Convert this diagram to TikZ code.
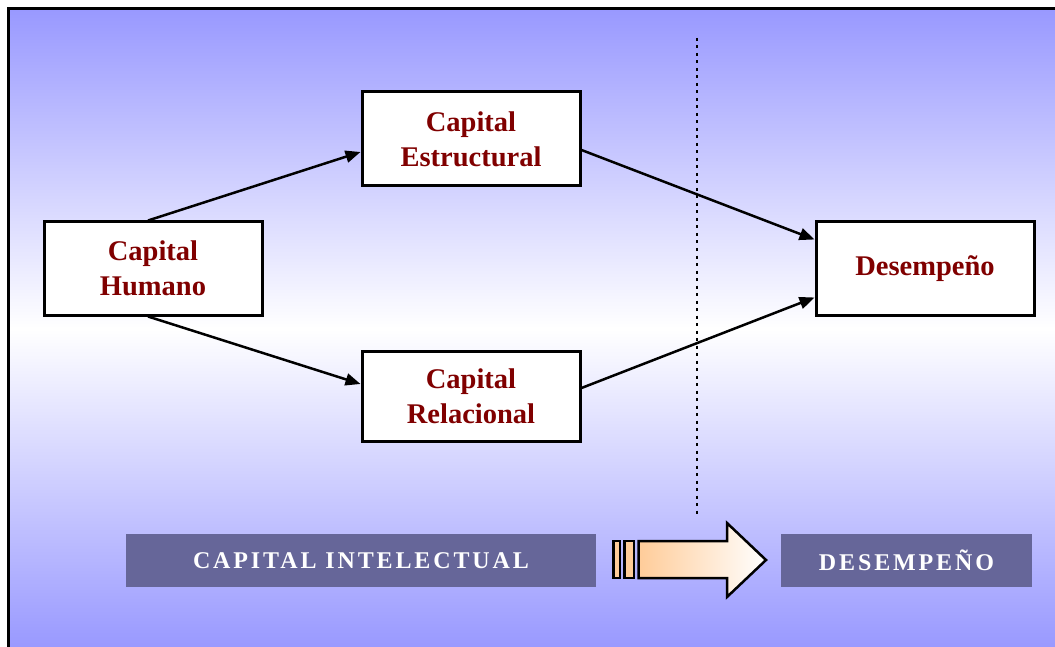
\documentclass[tikz,border=0pt]{standalone}
\usepackage{fontspec}
\setmainfont{Liberation Serif}
\usetikzlibrary{arrows.meta,calc}
\definecolor{bgblue}{HTML}{9999FF}
\definecolor{barblue}{HTML}{666699}
\definecolor{textred}{HTML}{800000}
\definecolor{peach}{HTML}{FFCC99}
\tikzset{
  box/.style={draw=black, line width=3pt, fill=white, minimum width=218pt,
    align=center, text=textred, inner sep=0pt,
    font=\bfseries\fontsize{28.5}{35}\selectfont},
  link/.style={draw=black, line width=2.5pt, -{Triangle[length=15pt,width=12pt]}},
  bar/.style={fill=barblue, draw=none, text=white, inner sep=0pt,
    font=\bfseries\fontsize{24}{28}\selectfont\addfontfeature{LetterSpace=12}}
}
\begin{document}
\begin{tikzpicture}[x=1pt,y=-1pt]
\useasboundingbox (0,0) rectangle (1055,647);
% backdrop with vertical blue-white-blue gradient
\shade[top color=bgblue, bottom color=bgblue, middle color=white]
  (10,10) rectangle (1055,647);
\draw[line width=3pt] (8.5,647) -- (8.5,8.5) -- (1055,8.5);

% dotted divider
\coordinate (d1) at (697,38);
\coordinate (d2) at (697,515);
\draw[line width=2pt, dash pattern=on 3pt off 4.5pt] (d1) -- (d2);

% model boxes
\node[box, minimum height=93pt] (hum) at (153,268.5) {Capital\\Humano};
\node[box, minimum height=94pt] (est) at (471,139) {Capital\\Estructural};
\node[box, minimum height=90pt] (rel) at (471,396) {Capital\\Relacional};
\node[box, minimum height=93pt] (des) at (925,268.5) {Desempeño};

% relations
\draw[link] ([xshift=-5pt]hum.north) -- ([yshift=-13pt]est.west);
\draw[link] ([xshift=-5pt]hum.south) -- ([yshift=12pt]rel.west);
\draw[link] ([yshift=-11pt]est.east) -- ([yshift=29pt]des.west);
\draw[link] ([yshift=8pt]rel.east) -- ([yshift=-29pt]des.west);

% bottom labels
\node[bar, minimum width=470pt, minimum height=53pt] (ci) at (361,560.5) {CAPITAL INTELECTUAL};
\node[bar, minimum width=251pt, minimum height=53pt] (dp) at (906.5,560.5) {DESEMPEÑO};

% block arrow between the labels
\draw[line width=2.5pt, fill=peach] (613.5,541) rectangle (620,578);
\draw[line width=2.5pt, fill=peach] (624.5,541) rectangle (634,578);
\draw[line width=2.5pt, left color=peach, right color=white]
  (638.5,541) -- (727,541) -- (727,523) -- (766,560) -- (727,597)
  -- (727,578) -- (638.5,578) -- cycle;
\end{tikzpicture}
\end{document}
